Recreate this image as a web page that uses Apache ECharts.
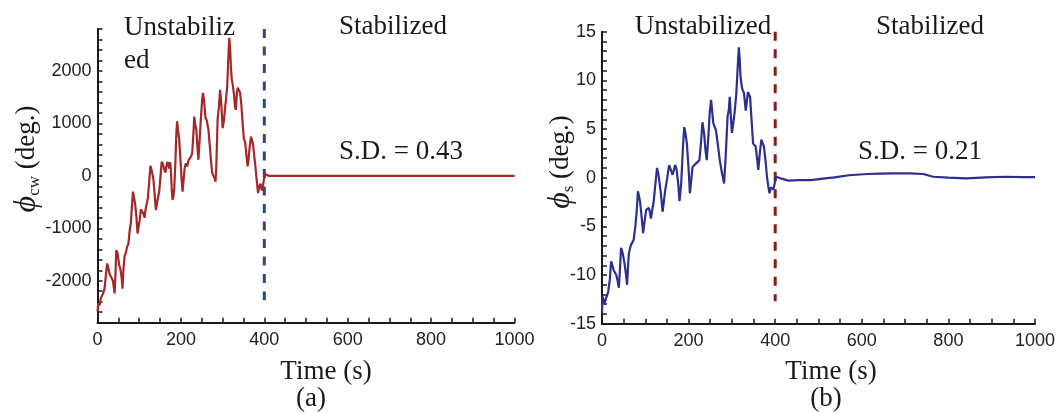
<!DOCTYPE html>
<html>
<head>
<meta charset="utf-8">
<script src="https://cdn.jsdelivr.net/npm/echarts@6/dist/echarts.min.js"></script>
<style>
  html, body { margin: 0; padding: 0; background: #fff; }
  #chart { width: 1058px; height: 413px; }
</style>
</head>
<body>
<div id="chart"></div>
<script>
// (a) phi_cw (deg.) against time (s)
var timeA = [0, 2, 5, 8, 13, 17, 20, 23, 26, 29, 33, 37, 41, 43, 45, 48, 52, 55, 58, 60, 62, 65, 68, 71, 74, 77, 80, 82, 85, 87, 90, 93, 96, 98,
  101, 104, 107, 110, 113, 115, 118, 121, 124, 127, 129, 132, 134, 137, 140, 142, 145, 148, 151, 154, 157, 160, 163, 165, 168, 170, 172, 174, 176, 178,
  180, 182, 184, 187, 189, 191, 193, 196, 199, 202, 204, 206, 209, 212, 215, 218, 221, 224, 227, 230, 232, 234, 237, 240, 242, 245, 248, 251, 253, 256,
  259, 262, 266, 269, 272, 275, 278, 281, 283, 285, 288, 291, 294, 297, 300, 303, 306, 308, 311, 314, 316, 318, 320, 322, 324, 326, 328, 330, 332, 334,
  336, 338, 340, 342, 345, 348, 351, 354, 357, 360, 362, 365, 368, 370, 373, 376, 379, 382, 385, 388, 391, 394, 397, 399,
  400, 401, 410, 430, 460, 500, 540, 580, 620, 660, 700, 740, 780, 820, 860, 900, 940, 980, 1000];
var phiCw = [-2590, -2420, -2470, -2330, -2250, -2150, -1900, -1670, -1760, -1870, -1890, -2000, -2240, -1900, -1420, -1470, -1700, -1780, -1950, -2150, -1800, -1530, -1470, -1350, -1300, -1050, -900, -650, -300, -330, -520, -750, -1100, -1080,
  -850, -640, -670, -720, -800, -650, -530, -420, -100, 190, 130, 20, -60, -350, -650, -620, -420, -300, -20, 270, 220, 120, 60, 180, 270, 200, 140, 260, 120, -250,
  -460, -400, -260, 300, 800, 1040, 880, 690, 300, -100, -300, -120, 150, 240, 180, 290, 280, 370, 420, 800, 1130, 1000, 880, 500, 306, 700, 1100, 1450, 1580, 1400,
  1100, 1060, 880, 600, 300, 60, 0, -50, -110, 200, 1070, 1300, 1640, 1350, 910, 1050, 1300, 1450, 1700, 2300, 2630, 2450, 2050, 1840, 1750, 1640, 1500, 1300, 1260, 1550,
  1680, 1690, 1620, 1580, 1350, 1000, 700, 650, 400, 180, 300, 550, 750, 740, 600, 370, 150, -100, -330, -200, -150, -280, -180, -200,
  -30, 40, 0.6, -0.3, 0.4, -0.5, 0.2, 0.7, -0.4, 0.3, -0.6, 0.1, 0.5, -0.2, 0.4, -0.5, 0.3, -0.1, 0.0];

// (b) phi_s (deg.) against time (s)
var timeB = [0, 1, 3, 6, 10, 14, 18, 21, 24, 27, 30, 33, 36, 39, 42, 44, 48, 52, 55, 58, 60, 62, 65, 67, 70, 73, 77, 80, 83, 85, 88, 91, 95, 98,
  102, 105, 108, 111, 113, 116, 119, 123, 127, 130, 132, 136, 140, 143, 146, 150, 155, 159, 163, 166, 169, 172, 176, 179, 183, 187, 190, 193, 196,
  200, 203, 206, 209, 213, 218, 222, 225, 229, 232, 236, 239, 242, 246, 249, 252, 257, 260, 263, 267, 272, 277, 282, 286, 290, 293, 295, 298,
  300, 303, 306, 310, 313, 316, 318, 320, 323, 325, 328, 330, 332, 335, 337, 340, 342, 345, 349, 352, 355, 358, 361, 364, 368, 371, 374, 378,
  381, 384, 387, 390, 393, 396, 399,
  402, 405, 415, 430, 455, 483, 510, 537, 570, 613, 640, 673, 710, 742, 765, 800, 841, 886, 932, 970, 1000];
var phiS = [-13.9, -12.2, -12.4, -12.9, -12.3, -11.8, -10.5, -8.6, -9.0, -9.5, -9.6, -10.0, -10.6, -11.3, -9.0, -7.2, -7.8, -8.8, -9.8, -11.0, -9.2, -7.8, -7.2, -6.9, -6.7, -6.4, -5.0, -3.5, -1.4, -1.8, -2.5, -3.8, -5.7, -4.6,
  -3.3, -3.2, -3.1, -3.6, -4.2, -3.3, -2.6, -0.8, 1.0, 0.4, -0.2, -1.6, -3.5, -2.4, -1.3, -0.2, 1.3, 0.8, 0.3, 0.8, 1.3, 0.9, -0.6, -2.4, -0.5, 3.2, 5.2, 4.5, 3.5,
  0.9, -1.6, -0.3, 1.1, 1.2, 1.5, 1.6, 1.8, 3.8, 5.7, 4.5, 2.8, 1.8, 4.5, 6.8, 8.0, 5.6, 5.4, 4.9, 3.6, 1.8, 0.5, -0.6, 2.5, 6.3, 7.0, 8.3, 6.0,
  4.6, 5.5, 6.6, 8.5, 11.0, 13.4, 12.2, 10.3, 9.3, 9.0, 8.7, 7.8, 6.9, 8.0, 8.8, 8.6, 8.3, 6.2, 3.5, 3.4, 3.2, 2.0, 0.8, 2.3, 3.9, 3.7, 3.2, 1.6,
  0.1, -0.9, -1.6, -1.0, -0.8, -1.2, -1.1,
  0.1, 0.15, -0.1, -0.3, -0.25, -0.24, -0.1, 0.04, 0.25, 0.38, 0.42, 0.45, 0.44, 0.38, 0.1, 0.0, -0.06, 0.04, 0.1, 0.05, 0.05];

// tick labels
var xLabels = [0, 200, 400, 600, 800, 1000];
var yLabelsA = [-2000, -1000, 0, 1000, 2000];
var yLabelsB = [-15, -10, -5, 0, 5, 10, 15];

// switch-over time and the extent of the dashed marker on each panel
var switchTime = 400;
var markerA = [2800, -2370];
var markerB = [15, -12.7];

function zip(xs, ys) {
  return xs.map(function (x, i) { return [x, ys[i]]; });
}
function onlyLabels(list) {
  return function (v) { return list.indexOf(v) >= 0 ? String(v) : ''; };
}

var SERIF = '"Liberation Serif", "Times New Roman", serif';
var SANS = '"Liberation Sans", Arial, sans-serif';
var ink = '#1a1a1a';

function xAxisOf(idx) {
  return {
    gridIndex: idx, type: 'value', min: 0, max: 1000, interval: 50,
    axisLine: { onZero: false, lineStyle: { color: ink, width: 2 } },
    axisTick: { inside: true, length: 5, lineStyle: { color: ink, width: 1.5 } },
    axisLabel: { formatter: onlyLabels(xLabels), color: '#222', fontSize: 18, fontFamily: SANS, margin: 8 },
    splitLine: { show: false }
  };
}
function yAxisOf(idx, min, max, step, labels) {
  return {
    gridIndex: idx, type: 'value', min: min, max: max, interval: step,
    axisLine: { onZero: false, lineStyle: { color: ink, width: 2 } },
    axisTick: { inside: true, length: 5, lineStyle: { color: ink, width: 1.5 } },
    axisLabel: { formatter: onlyLabels(labels), color: '#222', fontSize: 18, fontFamily: SANS, margin: 6 },
    splitLine: { show: false }
  };
}

var nameRich = {
  phi: { fontFamily: SERIF, fontStyle: 'italic', fontSize: 32, fill: ink },
  sub: { fontFamily: SERIF, fontSize: 17, fill: ink, verticalAlign: 'bottom', padding: [12, 0, 0, 0] },
  u: { fontFamily: SERIF, fontSize: 27, fill: ink }
};

function label(text, x, y, size, align) {
  return {
    type: 'text', x: x, y: y, silent: true,
    style: { text: text, fill: ink, font: size + 'px ' + SERIF, align: align || 'center', verticalAlign: 'middle', lineHeight: 33 }
  };
}
function axisName(text, x, y) {
  return {
    type: 'text', x: x, y: y, rotation: Math.PI / 2, silent: true,
    style: { text: text, rich: nameRich, fill: ink, font: '27px ' + SERIF, align: 'center', verticalAlign: 'middle' }
  };
}

var chart = echarts.init(document.getElementById('chart'));
chart.setOption({
  animation: false,
  backgroundColor: '#fff',
  grid: [
    { left: 97.5, top: 29, width: 417, height: 293.7, containLabel: false },
    { left: 602, top: 31.7, width: 436, height: 292, containLabel: false }
  ],
  xAxis: [xAxisOf(0), xAxisOf(1)],
  yAxis: [
    yAxisOf(0, -2800, 2800, 200, yLabelsA),
    yAxisOf(1, -15, 15, 1, yLabelsB)
  ],
  series: [
    {
      type: 'line', xAxisIndex: 0, yAxisIndex: 0, data: zip(timeA, phiCw),
      showSymbol: false, lineStyle: { color: '#a3282a', width: 2.2 }, z: 3
    },
    {
      type: 'line', xAxisIndex: 0, yAxisIndex: 0,
      data: [[switchTime, markerA[0]], [switchTime, markerA[1]]],
      showSymbol: false, lineStyle: { color: '#2d4a74', width: 3, type: [9, 8.5] }, z: 2
    },
    {
      type: 'line', xAxisIndex: 1, yAxisIndex: 1, data: zip(timeB, phiS),
      showSymbol: false, lineStyle: { color: '#2c2f8e', width: 2.2 }, z: 3
    },
    {
      type: 'line', xAxisIndex: 1, yAxisIndex: 1,
      data: [[switchTime, markerB[0]], [switchTime, markerB[1]]],
      showSymbol: false, lineStyle: { color: '#7e1e1e', width: 3, type: [9, 8.5] }, z: 2
    }
  ],
  graphic: [
    axisName('{phi|ϕ}{sub|cw} {u|(deg.)}', 27, 159),
    axisName('{phi|ϕ}{sub|s} {u|(deg.)}', 561, 162),
    label('Unstabiliz\ned', 124, 44, 27, 'left'),
    label('Stabilized', 393, 27, 27),
    label('S.D. = 0.43', 401, 152, 27),
    label('Unstabilized', 703, 27, 27),
    label('Stabilized', 930, 27, 27),
    label('S.D. = 0.21', 920, 152, 27),
    label('Time (s)', 326, 372, 27),
    label('(a)', 311, 399, 27),
    label('Time (s)', 831, 372, 27),
    label('(b)', 826, 399, 27)
  ]
});
</script>
</body>
</html>
